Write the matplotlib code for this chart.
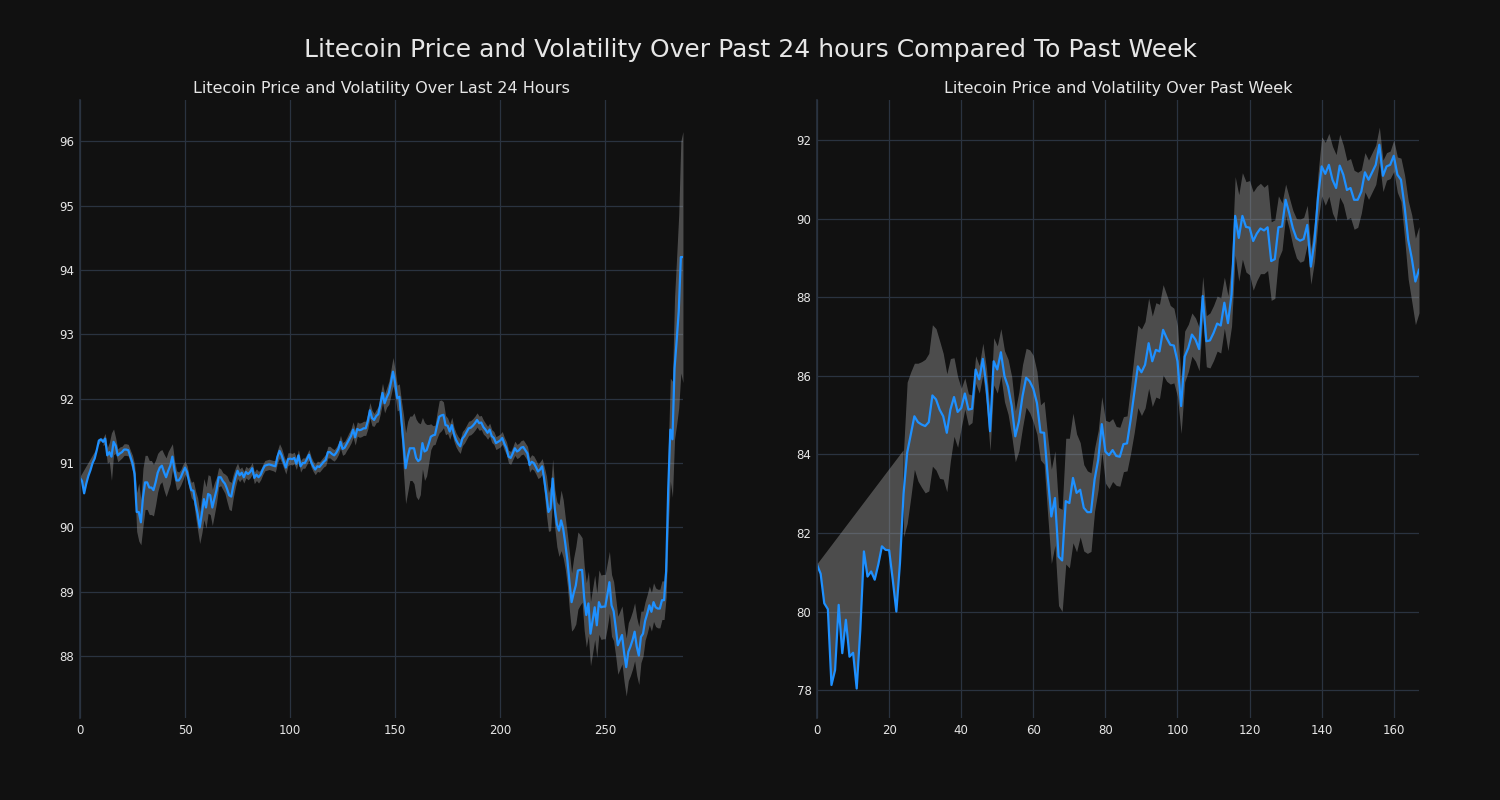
"""
Litecoin price with a volatility band: last 24 hours (5-min bars) next to
the past week (hourly bars). Writes out.png.
"""
import matplotlib
matplotlib.use("Agg")
import matplotlib.pyplot as plt
from matplotlib.ticker import MultipleLocator
import numpy as np

nan = np.nan

# last 24 hours, 5-minute closes
price_24h = [
    90.77, 90.72, 90.53, 90.68, 90.80, 90.89, 91.00, 91.07, 91.20, 91.35,
    91.37, 91.33, 91.38, 91.12, 91.17, 91.10, 91.33, 91.27, 91.12, 91.15,
    91.17, 91.21, 91.21, 91.20, 91.10, 91.00, 90.83, 90.24, 90.24, 90.08,
    90.47, 90.70, 90.70, 90.62, 90.62, 90.58, 90.70, 90.85, 90.93, 90.96,
    90.86, 90.78, 90.88, 90.96, 91.10, 90.89, 90.73, 90.73, 90.78, 90.86,
    90.93, 90.86, 90.70, 90.58, 90.57, 90.37, 90.21, 90.00, 90.21, 90.44,
    90.31, 90.52, 90.50, 90.31, 90.45, 90.58, 90.78, 90.78, 90.72, 90.68,
    90.60, 90.50, 90.48, 90.65, 90.78, 90.88, 90.81, 90.85, 90.78, 90.86,
    90.83, 90.86, 90.92, 90.77, 90.82, 90.78, 90.82, 90.90, 90.96, 90.97,
    90.98, 90.97, 90.96, 90.95, 91.10, 91.19, 91.12, 91.02, 90.93, 91.06,
    91.07, 91.06, 91.08, 90.99, 91.12, 90.95, 91.00, 91.00, 91.06, 91.13,
    91.02, 90.95, 90.90, 90.95, 90.94, 90.98, 91.02, 91.05, 91.17, 91.17,
    91.14, 91.12, 91.16, 91.22, 91.33, 91.22, 91.24, 91.30, 91.36, 91.42,
    91.52, 91.40, 91.53, 91.51, 91.52, 91.54, 91.54, 91.65, 91.82, 91.70,
    91.67, 91.73, 91.76, 91.92, 92.09, 91.93, 92.02, 92.09, 92.25, 92.42,
    92.25, 92.01, 92.03, 91.67, 91.30, 90.92, 91.10, 91.23, 91.23, 91.23,
    91.08, 91.03, 91.06, 91.31, 91.18, 91.20, 91.30, 91.41, 91.43, 91.44,
    91.59, 91.72, 91.74, 91.75, 91.59, 91.58, 91.49, 91.59, 91.45, 91.36,
    91.30, 91.26, 91.38, 91.42, 91.48, 91.54, 91.55, 91.58, 91.62, 91.67,
    91.62, 91.63, 91.56, 91.52, 91.47, 91.52, 91.42, 91.39, 91.31, 91.33,
    91.35, 91.39, 91.30, 91.23, 91.10, 91.08, 91.15, 91.23, 91.18, 91.20,
    91.24, 91.25, 91.20, 91.15, 90.97, 91.02, 91.00, 90.94, 90.87, 90.90,
    90.95, 90.74, 90.50, 90.24, 90.30, 90.76, 90.29, 90.05, 89.95, 90.11,
    89.98, 89.75, 89.49, 89.15, 88.84, 88.98, 89.10, 89.33, 89.34, 89.34,
    88.90, 88.64, 88.82, 88.35, 88.55, 88.76, 88.48, 88.84, 88.76, 88.77,
    88.77, 88.95, 89.15, 88.79, 88.70, 88.45, 88.17, 88.25, 88.33, 88.05,
    87.83, 88.07, 88.15, 88.25, 88.38, 88.15, 88.01, 88.30, 88.35, 88.55,
    88.66, 88.79, 88.69, 88.84, 88.76, 88.74, 88.74, 88.87, 88.87, 89.32,
    90.60, 91.52, 91.37, 92.47, 92.90, 93.36, 94.20, 94.20,
]

# half-width of the volatility band (nan until the rolling window fills)
vol_24h = [
    nan, nan, nan, nan, nan, nan, nan, nan, nan, nan,
    nan, 0.06, 0.08, 0.12, 0.15, 0.37, 0.20, 0.12, 0.10, 0.10,
    0.09, 0.09, 0.09, 0.09, 0.10, 0.12, 0.15, 0.30, 0.45, 0.35,
    0.45, 0.42, 0.42, 0.42, 0.42, 0.40, 0.35, 0.30, 0.26, 0.25,
    0.28, 0.30, 0.30, 0.28, 0.20, 0.15, 0.15, 0.13, 0.12, 0.12,
    0.10, 0.10, 0.10, 0.12, 0.15, 0.20, 0.25, 0.25, 0.30, 0.32,
    0.32, 0.30, 0.30, 0.28, 0.25, 0.20, 0.15, 0.13, 0.13, 0.15,
    0.20, 0.22, 0.22, 0.18, 0.15, 0.12, 0.10, 0.09, 0.09, 0.09,
    0.09, 0.09, 0.09, 0.09, 0.09, 0.09, 0.08, 0.08, 0.08, 0.08,
    0.08, 0.08, 0.08, 0.09, 0.10, 0.11, 0.11, 0.10, 0.10, 0.10,
    0.09, 0.09, 0.09, 0.09, 0.09, 0.09, 0.08, 0.08, 0.08, 0.08,
    0.08, 0.08, 0.08, 0.08, 0.08, 0.08, 0.08, 0.09, 0.09, 0.09,
    0.09, 0.09, 0.09, 0.09, 0.10, 0.10, 0.10, 0.10, 0.11, 0.11,
    0.12, 0.12, 0.11, 0.11, 0.11, 0.11, 0.11, 0.12, 0.12, 0.12,
    0.10, 0.10, 0.12, 0.15, 0.15, 0.15, 0.15, 0.18, 0.20, 0.22,
    0.20, 0.20, 0.20, 0.30, 0.45, 0.55, 0.55, 0.50, 0.50, 0.55,
    0.60, 0.60, 0.55, 0.40, 0.45, 0.40, 0.30, 0.20, 0.15, 0.15,
    0.20, 0.25, 0.24, 0.20, 0.15, 0.12, 0.12, 0.12, 0.11, 0.11,
    0.11, 0.11, 0.11, 0.11, 0.11, 0.11, 0.11, 0.11, 0.11, 0.11,
    0.11, 0.11, 0.11, 0.10, 0.10, 0.10, 0.10, 0.10, 0.10, 0.10,
    0.10, 0.10, 0.10, 0.10, 0.10, 0.10, 0.10, 0.11, 0.11, 0.11,
    0.11, 0.11, 0.11, 0.11, 0.11, 0.11, 0.11, 0.11, 0.11, 0.12,
    0.12, 0.20, 0.30, 0.30, 0.35, 0.30, 0.30, 0.35, 0.40, 0.47,
    0.45, 0.40, 0.40, 0.45, 0.45, 0.55, 0.60, 0.60, 0.55, 0.50,
    0.50, 0.50, 0.50, 0.50, 0.50, 0.50, 0.50, 0.50, 0.50, 0.50,
    0.50, 0.50, 0.48, 0.48, 0.46, 0.45, 0.45, 0.45, 0.45, 0.45,
    0.45, 0.45, 0.45, 0.45, 0.45, 0.45, 0.45, 0.40, 0.35, 0.30,
    0.30, 0.30, 0.30, 0.30, 0.30, 0.30, 0.30, 0.30, 0.30, 0.40,
    0.60, 0.80, 0.90, 1.10, 1.30, 1.50, 1.80, 1.95,
]

# past week, hourly closes
price_week = [
    81.19, 80.96, 80.21, 80.06, 78.13, 78.51, 80.17, 78.94, 79.79, 78.85,
    78.95, 78.04, 79.53, 81.53, 80.89, 81.02, 80.81, 81.20, 81.66, 81.57,
    81.56, 80.81, 80.00, 81.23, 83.00, 84.04, 84.50, 84.97, 84.82, 84.76,
    84.72, 84.82, 85.50, 85.40, 85.14, 84.97, 84.55, 85.14, 85.46, 85.08,
    85.18, 85.55, 85.14, 85.16, 86.16, 85.91, 86.43, 85.74, 84.59, 86.37,
    86.16, 86.60, 85.99, 85.72, 85.23, 84.46, 84.84, 85.48, 85.95, 85.86,
    85.67, 85.31, 84.56, 84.55, 83.44, 82.42, 82.89, 81.40, 81.30, 82.81,
    82.76, 83.40, 83.02, 83.10, 82.64, 82.53, 82.53, 83.36, 83.86, 84.77,
    84.07, 83.98, 84.11, 83.96, 83.94, 84.26, 84.28, 84.88, 85.56, 86.24,
    86.09, 86.28, 86.83, 86.37, 86.66, 86.62, 87.17, 86.96, 86.79, 86.77,
    86.37, 85.23, 86.49, 86.71, 87.05, 86.92, 86.68, 88.03, 86.88, 86.90,
    87.09, 87.33, 87.28, 87.86, 87.34, 88.07, 90.07, 89.51, 90.07, 89.79,
    89.77, 89.43, 89.62, 89.75, 89.70, 89.78, 88.92, 88.97, 89.78, 89.80,
    90.48, 90.14, 89.76, 89.50, 89.44, 89.48, 89.84, 88.78, 89.42, 90.56,
    91.33, 91.14, 91.37, 90.99, 90.78, 91.35, 91.12, 90.73, 90.78, 90.48,
    90.48, 90.69, 91.18, 90.99, 91.18, 91.37, 91.88, 91.09, 91.33, 91.37,
    91.60, 91.12, 90.99, 90.31, 89.46, 88.99, 88.40, 88.70,
]

vol_week = [
    nan, nan, nan, nan, nan, nan, nan, nan, nan, nan,
    nan, nan, nan, nan, nan, nan, nan, nan, nan, nan,
    nan, nan, nan, nan, 1.10, 1.80, 1.60, 1.35, 1.50, 1.60,
    1.70, 1.75, 1.80, 1.80, 1.75, 1.60, 1.50, 1.30, 1.00, 0.90,
    0.50, 0.40, 0.40, 0.35, 0.35, 0.35, 0.40, 0.45, 0.50, 0.60,
    0.60, 0.60, 0.65, 0.70, 0.75, 0.65, 0.75, 0.80, 0.75, 0.80,
    0.85, 0.80, 0.70, 0.80, 1.00, 1.20, 1.20, 1.25, 1.30, 1.60,
    1.65, 1.65, 1.50, 1.20, 1.10, 1.05, 1.00, 0.80, 0.75, 0.70,
    0.80, 0.85, 0.80, 0.75, 0.75, 0.70, 0.70, 0.85, 1.00, 1.05,
    1.10, 1.10, 1.15, 1.15, 1.20, 1.20, 1.15, 1.10, 1.00, 0.95,
    0.90, 0.70, 0.65, 0.60, 0.55, 0.55, 0.55, 0.50, 0.65, 0.70,
    0.70, 0.70, 0.70, 0.65, 0.70, 0.80, 1.00, 1.10, 1.10, 1.15,
    1.20, 1.25, 1.20, 1.15, 1.10, 1.10, 1.00, 1.00, 0.80, 0.60,
    0.40, 0.40, 0.45, 0.50, 0.55, 0.55, 0.50, 0.45, 0.50, 0.60,
    0.75, 0.80, 0.80, 0.85, 0.85, 0.80, 0.75, 0.75, 0.75, 0.75,
    0.70, 0.55, 0.50, 0.50, 0.50, 0.50, 0.45, 0.40, 0.35, 0.35,
    0.40, 0.45, 0.55, 0.80, 1.00, 1.10, 1.10, 1.10,
]

BG = "#111111"
GRID = "#2a3340"
LINE = "#1e90ff"
BAND = "#a0a0a0"
TEXT = "#e6e6e6"


def draw_panel(ax, price, vol, title, ylim, ystep):
    price = np.asarray(price, dtype=float)
    vol = np.asarray(vol, dtype=float)
    x = np.arange(len(price))
    first = int(np.argmax(~np.isnan(vol)))

    ax.fill_between(x[first:], price[first:] - vol[first:],
                    price[first:] + vol[first:], color=BAND, alpha=0.42, lw=0)
    # before the window fills, the band runs from the line up to its first value
    wx = np.r_[x[:first + 1], x[first]]
    wy = np.r_[price[:first + 1], price[first] + vol[first]]
    ax.fill(wx, wy, color=BAND, alpha=0.42, lw=0)
    ax.plot(x, price, color=LINE, lw=1.6)

    ax.set_xlim(0, len(price) - 1)
    ax.set_ylim(*ylim)
    ax.yaxis.set_major_locator(MultipleLocator(ystep))
    ax.set_facecolor(BG)
    ax.grid(True, color=GRID, lw=0.9)
    ax.set_axisbelow(True)
    for side in ("top", "right", "bottom"):
        ax.spines[side].set_visible(False)
    ax.spines["left"].set_color(GRID)
    ax.spines["left"].set_linewidth(1.2)
    ax.tick_params(colors=TEXT, labelsize=8.5, length=0, pad=4)
    ax.set_title(title, color=TEXT, fontsize=11.5, pad=5)


def main():
    fig = plt.figure(figsize=(15, 8), dpi=100, facecolor=BG)
    ax1 = fig.add_axes([0.0533, 0.1025, 0.402, 0.7725])
    ax2 = fig.add_axes([0.5447, 0.1025, 0.4013, 0.7725])

    draw_panel(ax1, price_24h, vol_24h,
               "Litecoin Price and Volatility Over Last 24 Hours", (87.04, 96.64), 1)
    draw_panel(ax2, price_week, vol_week,
               "Litecoin Price and Volatility Over Past Week", (77.29, 93.02), 2)
    ax1.set_xticks([0, 50, 100, 150, 200, 250])
    ax2.set_xticks([0, 20, 40, 60, 80, 100, 120, 140, 160])

    fig.suptitle("Litecoin Price and Volatility Over Past 24 hours Compared To Past Week",
                 color=TEXT, fontsize=18, y=0.9375, va="center")
    fig.savefig("out.png", dpi=100, facecolor=BG)
    plt.close(fig)


if __name__ == "__main__":
    main()
